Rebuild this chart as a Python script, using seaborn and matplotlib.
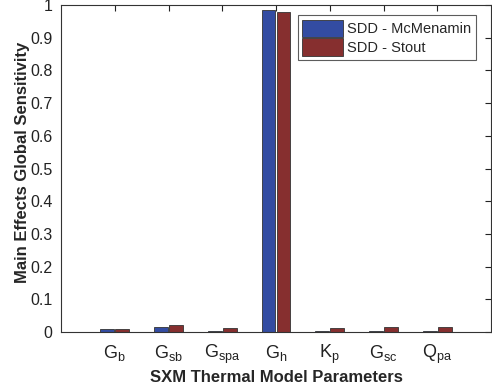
import matplotlib
matplotlib.use("Agg")
import matplotlib.pyplot as plt
import seaborn as sns
import pandas as pd

categories = ["G_b", "G_sb", "G_spa", "G_h", "K_p", "G_sc", "Q_pa"]
tick_labels = [r"$\mathregular{G_{b}}$", r"$\mathregular{G_{sb}}$", r"$\mathregular{G_{spa}}$",
               r"$\mathregular{G_{h}}$", r"$\mathregular{K_{p}}$", r"$\mathregular{G_{sc}}$",
               r"$\mathregular{Q_{pa}}$"]
mcmenamin = [0.008, 0.016, 0.003, 0.985, 0.002, 0.003, 0.004]
stout = [0.010, 0.022, 0.012, 0.980, 0.013, 0.014, 0.016]
series_names = ["SDD - McMenamin", "SDD - Stout"]

df = pd.DataFrame({
    "param": categories * 2,
    "value": mcmenamin + stout,
    "series": [series_names[0]] * 7 + [series_names[1]] * 7,
})

sns.set_style("white")
plt.rcParams["font.family"] = ["Liberation Sans", "DejaVu Sans"]
plt.rcParams["mathtext.fontset"] = "custom"
plt.rcParams["mathtext.rm"] = "Liberation Sans"

fig = plt.figure(figsize=(4.92, 3.91), dpi=100)
ax = fig.add_axes([0.124, 0.151, 0.874, 0.836])

palette = {series_names[0]: "#2142b4", series_names[1]: "#952020"}
sns.barplot(data=df, x="param", y="value", hue="series", palette=palette,
            width=0.56, gap=0.08, edgecolor="#333333", linewidth=0.6, ax=ax)

ax.set_xlim(-1, 7)
ax.set_ylim(0, 1)
ax.set_yticks([i / 10 for i in range(11)])
ax.set_yticklabels(["0"] + [f"0.{i}" for i in range(1, 10)] + ["1"])
ax.set_xticks(range(7))
ax.set_xticklabels(tick_labels)
ax.tick_params(axis="both", direction="in", top=True, right=True, length=4,
               width=0.8, colors="#222222")
ax.tick_params(axis="y", labelsize=11.5, pad=6)
ax.tick_params(axis="x", labelsize=13, pad=8)
for s in ax.spines.values():
    s.set_visible(True)
    s.set_color("#333333")
    s.set_linewidth(0.8)

ax.set_xlabel("SXM Thermal Model Parameters", fontsize=12, fontweight="bold", labelpad=3)
ax.set_ylabel("Main Effects Global Sensitivity", fontsize=12, fontweight="bold")
ax.yaxis.set_label_coords(-0.073, 0.52)

leg = ax.legend(loc="upper right", bbox_to_anchor=(0.975, 0.982), frameon=True, fancybox=False,
                edgecolor="#333333", fontsize=10.5, handlelength=2.8, handleheight=1.45,
                handletextpad=0.3, borderpad=0.3, labelspacing=0.08, borderaxespad=0.3)
leg.get_frame().set_linewidth(0.8)

fig.savefig("out.png", dpi=100)
